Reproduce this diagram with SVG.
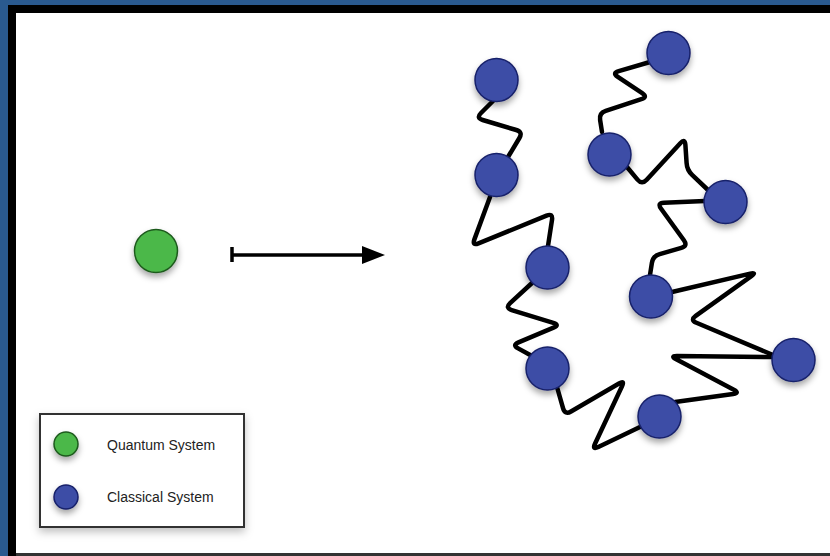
<svg xmlns="http://www.w3.org/2000/svg" width="830" height="556" viewBox="0 0 830 556">
<defs>
<filter id="sh" x="-50%" y="-50%" width="200%" height="200%">
<feDropShadow dx="0" dy="4" stdDeviation="3" flood-color="#000" flood-opacity="0.35"/>
</filter>
<filter id="bsh" x="-10%" y="-10%" width="120%" height="130%">
<feDropShadow dx="0" dy="4" stdDeviation="4" flood-color="#000" flood-opacity="0.25"/>
</filter>
<marker id="ah" markerWidth="24" markerHeight="20" refX="0" refY="9" orient="auto" markerUnits="userSpaceOnUse">
<path d="M0,0 L23,9 L0,18 Z" fill="#000"/>
</marker>
</defs>
<style>
.blue{fill:#3c4ea6;stroke:#18206a;stroke-width:1.5;filter:url(#sh)}
.green{fill:#4cb848;stroke:#1d5a1d;stroke-width:1.5;filter:url(#sh)}
.spring{fill:none;stroke:#000;stroke-width:4.5;stroke-linejoin:round;stroke-linecap:round}
.lbl{font-family:"Liberation Sans",Arial,sans-serif;font-size:14px;fill:#222}
</style>
<rect x="0" y="0" width="830" height="556" fill="#2a5a8f"/>
<rect x="8" y="5" width="822" height="551" fill="#000"/>
<rect x="16" y="13" width="814" height="540" fill="#fff"/>

<g id="connectors">
<path class="spring" d="M493,101 L481,113 Q476,118 482.7,120 L516.3,130 Q523,132 519.4,138 L508,157"/>
<path class="spring" d="M490,197 L474.4,239.4 Q472,246 478.5,243.4 L546.5,215.6 Q553,213 552,219.9 L548,246"/>
<path class="spring" d="M532,283 L510.1,303.2 Q505,308 511.7,310.1 L553.3,322.9 Q560,325 553.5,327.7 L518.5,342.3 Q512,345 518.1,348.4 L532,356"/>
<path class="spring" d="M557,387 L563.1,408.3 Q565,415 571,411.5 L619,383.5 Q625,380 622,386.3 L595,443.7 Q592,450 598.3,447 L640,427"/>
<path class="spring" d="M675,402 L733.1,394 Q740,393 733.8,389.7 L676.2,359.3 Q670,356 677,356.1 L773,357"/>
<path class="spring" d="M672,292 L750.2,273.6 Q757,272 751.3,276.1 L695.7,315.9 Q690,320 696.4,322.7 L773,355"/>
<path class="spring" d="M705,201 L664,202.7 Q657,203 661.1,208.7 L683.9,240.3 Q688,246 681.3,247.9 L659.7,254.1 Q653,256 651.9,262.9 L650,275"/>
<path class="spring" d="M627,167 L637.5,179.6 Q642,185 646.7,179.8 L680.3,143.2 Q685,138 685.4,145 L686.6,163 Q687,170 692.1,174.8 L708,190"/>
<path class="spring" d="M650,62 L618.7,71.1 Q612,73 617.8,76.9 L642.2,93.1 Q648,97 641.3,99.2 L605.7,110.8 Q599,113 600.1,119.9 L602,132"/>
<g id="arrow">
<line x1="232" y1="255" x2="362" y2="255" stroke="#000" stroke-width="3.5" marker-end="url(#ah)"/>
<line x1="232" y1="247" x2="232" y2="262" stroke="#000" stroke-width="3.5"/>
</g>
</g>

<g id="quantum"><circle class="green" cx="156" cy="251" r="21.5"/></g>
<g id="c1"><circle class="blue" cx="496.5" cy="80" r="21.5"/></g>
<g id="c2"><circle class="blue" cx="496.5" cy="175" r="21.5"/></g>
<g id="c3"><circle class="blue" cx="547.5" cy="267.5" r="21.5"/></g>
<g id="c4"><circle class="blue" cx="547.5" cy="368.5" r="21.5"/></g>
<g id="c5"><circle class="blue" cx="659.5" cy="416.5" r="21.5"/></g>
<g id="c6"><circle class="blue" cx="668.5" cy="53" r="21.5"/></g>
<g id="c7"><circle class="blue" cx="609.5" cy="154.5" r="21.5"/></g>
<g id="c8"><circle class="blue" cx="725.5" cy="202" r="21.5"/></g>
<g id="c9"><circle class="blue" cx="651" cy="296.5" r="21.5"/></g>
<g id="c10"><circle class="blue" cx="793.5" cy="360" r="21.5"/></g>

<g id="legend">
<rect x="40" y="414" width="204" height="113" fill="#fff" stroke="#333" stroke-width="2" filter="url(#bsh)"/>
<circle class="green" cx="66" cy="444" r="12"/>
<circle class="blue" cx="66" cy="497" r="12"/>
<text class="lbl" x="107" y="449.5">Quantum System</text>
<text class="lbl" x="107" y="502">Classical System</text>
</g>
<rect x="16" y="553" width="814" height="3" fill="#333"/>
</svg>
